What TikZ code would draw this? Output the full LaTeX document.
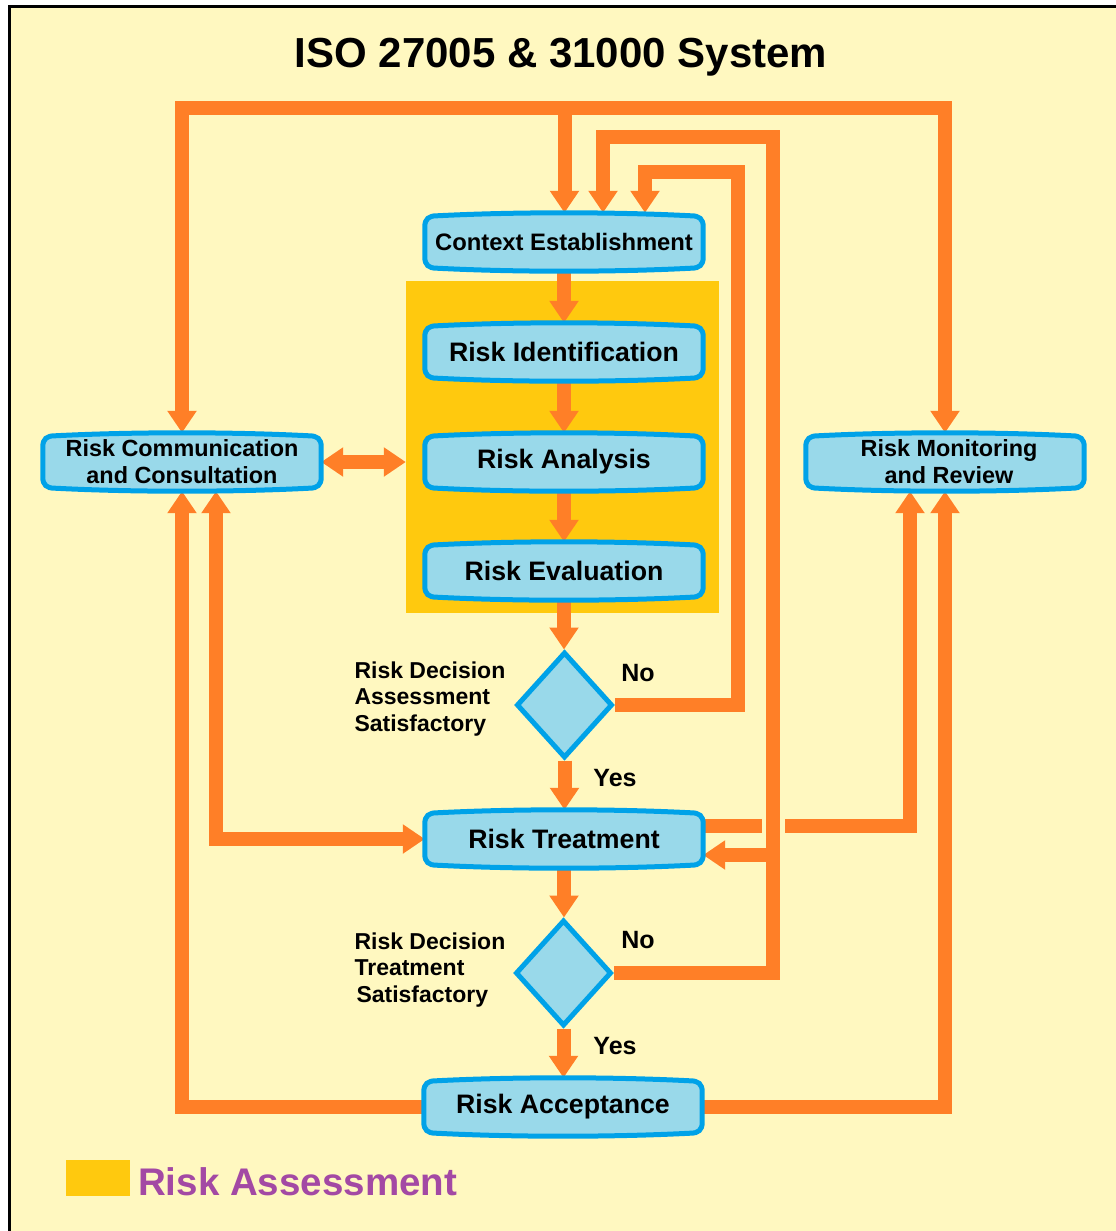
\documentclass[tikz,border=0pt]{standalone}
\usepackage{fontspec}
\setmainfont{Liberation Sans}
\usetikzlibrary{arrows.meta,calc,shapes.geometric}

\definecolor{paper}{RGB}{255,248,192}
\definecolor{flow}{RGB}{255,127,39}
\definecolor{boxfill}{RGB}{153,217,234}
\definecolor{boxedge}{RGB}{0,162,232}
\definecolor{assess}{RGB}{255,201,14}
\definecolor{legendtxt}{RGB}{163,73,164}

\pgfdeclarelayer{bg}
\pgfdeclarelayer{flows}
\pgfdeclarelayer{boxes}
\pgfsetlayers{bg,flows,boxes,main}

\tikzset{
  stepbox/.style={minimum width=278bp, minimum height=58bp, inner sep=0pt,
    font=\fontsize{26.7bp}{30bp}\selectfont\bfseries, align=center},
  sidebox/.style={stepbox, font=\fontsize{23.4bp}{27bp}\selectfont\bfseries},
  pill/.style={fill=boxfill, draw=boxedge, line width=5bp},
  decision/.style={diamond, fill=boxfill, draw=boxedge, line width=5bp,
    minimum width=96bp, minimum height=106bp, inner sep=0pt},
  question/.style={font=\fontsize{23bp}{26.5bp}\selectfont\bfseries, align=left, anchor=west},
  answer/.style={font=\fontsize{25bp}{28bp}\selectfont\bfseries},
  pipe/.style={draw=flow, line width=14bp},
  pipeto/.style={pipe, -{Triangle[width=28bp,length=22bp]}},
  pipeboth/.style={pipe, {Triangle[width=28bp,length=22bp]}-{Triangle[width=28bp,length=22bp]}},
}

% rounded box whose top and bottom edges bow slightly outwards
\newcommand\pillshape[1]{%
  \path[pill]
    ($(#1.north west)+(0,14)$)
    .. controls ($(#1.north west)+(0,6)$) and ($(#1.north west)+(4,3)$) .. ($(#1.north west)+(12,3)$)
    .. controls ($(#1.north west)+(90,-1)$) and ($(#1.north east)+(-90,-1)$) .. ($(#1.north east)+(-12,3)$)
    .. controls ($(#1.north east)+(-4,3)$) and ($(#1.north east)+(0,6)$) .. ($(#1.north east)+(0,14)$)
    -- ($(#1.south east)+(0,-14)$)
    .. controls ($(#1.south east)+(0,-6)$) and ($(#1.south east)+(-4,-3)$) .. ($(#1.south east)+(-12,-3)$)
    .. controls ($(#1.south east)+(-90,1)$) and ($(#1.south west)+(90,1)$) .. ($(#1.south west)+(12,-3)$)
    .. controls ($(#1.south west)+(4,-3)$) and ($(#1.south west)+(0,-6)$) .. ($(#1.south west)+(0,-14)$)
    -- cycle;}

\begin{document}
\begin{tikzpicture}[x=1bp, y=-1bp]
\useasboundingbox (0,0) rectangle (1116,1231);

\begin{pgfonlayer}{bg}
  \fill[white] (0,0) rectangle (1116,1231);
  \fill[paper] (9,6) rectangle (1116,1231);
  \draw[black, line width=3bp] (9,1231) -- (9,6) -- (1116,6);
  \node[fill=assess, minimum width=313bp, minimum height=332bp, inner sep=0pt] (ra) at (562.5,447) {};
  \node[fill=assess, minimum width=64bp, minimum height=36bp, inner sep=0pt] (legbox) at (98,1178) {};
\end{pgfonlayer}

% title and legend
\node[font=\fontsize{42bp}{46bp}\selectfont\bfseries] (title) at (561,57) {ISO 27005 \& 31000 System};
\node[anchor=west, text=legendtxt, font=\fontsize{38.5bp}{42bp}\selectfont\bfseries, inner sep=0pt] (legtext) at (138,1182) {Risk Assessment};

% process steps
\node[stepbox, font=\fontsize{23.8bp}{27bp}\selectfont\bfseries] (ctx) at (564,242) {Context Establishment};
\node[stepbox] (ident) at (564,352) {Risk Identification};
\node[stepbox] (anal) at (564,462) {Risk Analysis};
\node[stepbox] (eval) at (564,571) {Risk Evaluation};
\node[sidebox] (comm) at (182,462) {Risk Communication\\and Consultation};
\node[sidebox] (mon) at (945,462) {\hspace*{8bp}Risk Monitoring\\\hspace*{8bp}and Review};
\node[stepbox] (treat) at (564,839) {Risk Treatment};
\node[stepbox] (accept) at (563,1107) {Risk Acceptance};

% decisions
\node[decision] (d1) at (564.5,705) {};
\node[decision] (d2) at (563.5,973) {};
\node[question] (q1) at (351,699) {Risk Decision\\Assessment\\Satisfactory};
\node[question] (q2) at (351,970) {Risk Decision\\Treatment\\\hspace*{2bp}Satisfactory};
\node[answer] (no1) at (638,673) {No};
\node[answer] (yes1) at (615,778) {Yes};
\node[answer] (no2) at (638,940) {No};
\node[answer] (yes2) at (615,1046) {Yes};

\begin{pgfonlayer}{boxes}
  \foreach \n in {ctx,ident,anal,eval,comm,mon,treat,accept} {\pillshape{\n}}
\end{pgfonlayer}

% bend points of the feedback loops
\coordinate (topbar) at (564.5,108);
\coordinate (loopA) at (738,172);
\coordinate (loopB) at (773,137);
\coordinate (branchB) at (773,855);
\coordinate (gapL) at (762,826);
\coordinate (gapR) at (785,826);

\begin{pgfonlayer}{flows}
  % main sequence
  \draw[pipeto] (ctx.south) -- (ident.north);
  \draw[pipeto] (ident.south) -- (anal.north);
  \draw[pipeto] (anal.south) -- (eval.north);
  \draw[pipeto] (eval.south) -- (eval.south |- d1.north);
  \draw[pipeto] (d1.south) -- (d1.south |- treat.north);
  \draw[pipeto] (treat.south) -- (treat.south |- d2.north);
  \draw[pipeto] (d2.south) -- (d2.south |- accept.north);

  % top distribution bar
  \draw[pipeboth] (comm.north) |- (topbar) -| (mon.north);
  \draw[pipeto] (topbar) -- (topbar |- ctx.north);

  % communication with the assessment block
  \draw[pipeboth] (comm.east) -- (comm.east -| ra.west);

  % acceptance back to communication and monitoring
  \draw[pipeto] (accept.west) -| (comm.south);
  \draw[pipeto] (accept.east) -| (mon.south);

  % treatment with communication and monitoring
  \draw[pipeboth] ($(comm.south)+(34,0)$) |- (treat.west);
  \draw[pipe] (gapL -| treat.east) -- (gapL);
  \draw[pipeto] (gapR) -| ($(mon.south)+(-35,0)$);

  % "No" loops
  \draw[pipeto] (d1.east) -| (loopA) -| ($(ctx.north)+(81,0)$);
  \draw[pipeto] (d2.east) -| (loopB) -| ($(ctx.north)+(39,0)$);
  \draw[pipeto] (branchB) -- (branchB -| treat.east);
\end{pgfonlayer}
\end{tikzpicture}
\end{document}
